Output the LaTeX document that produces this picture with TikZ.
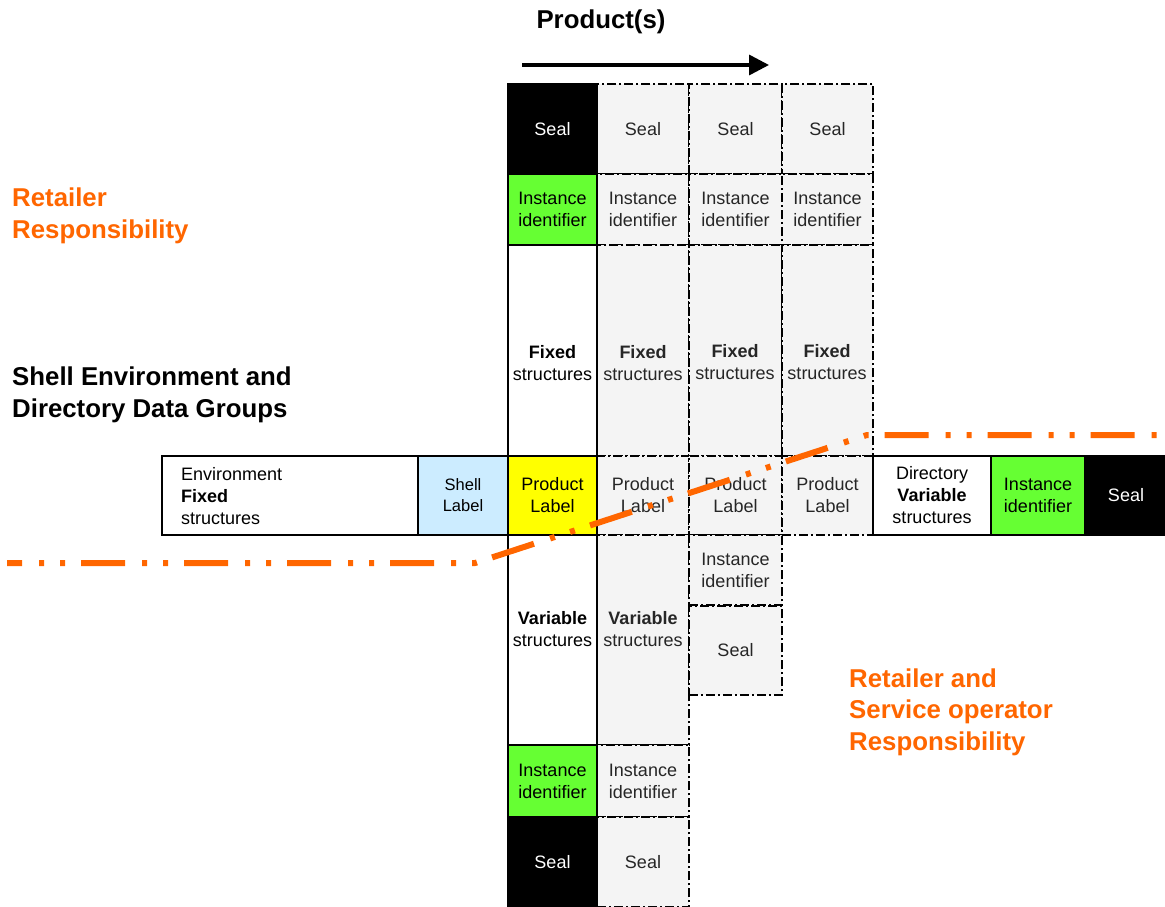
\documentclass[tikz,border=0pt]{standalone}
\usepackage{fontspec}
\setmainfont{Liberation Sans}
\usetikzlibrary{arrows.meta}
\definecolor{mygreen}{RGB}{102,255,51}
\definecolor{myyellow}{RGB}{255,255,0}
\definecolor{myblue}{RGB}{204,236,255}
\definecolor{myorange}{RGB}{255,102,0}
\definecolor{stipple}{RGB}{244,244,244}
\tikzset{
  cell/.style={draw=black, line width=1.6pt, anchor=north west, inner sep=0pt, outer sep=0pt,
    align=center, font=\fontsize{18}{22}\selectfont},
  dcell/.style={cell, fill=stipple, dash pattern=on 9pt off 3pt on 2pt off 3pt, text=black!85},
  sealcell/.style={cell, fill=black, text=white},
  idcell/.style={cell, fill=mygreen},
  txt/.style={inner sep=0pt, align=center, font=\fontsize{18}{22}\selectfont},
  head/.style={inner sep=0pt, align=left, anchor=west, font=\fontsize{25.8}{31.5}\selectfont\bfseries},
  resp/.style={line width=6pt, draw=myorange, dash pattern=on 44pt off 17pt on 5pt off 16pt on 5pt off 16pt, dash phase=29pt}
}
\begin{document}
\begin{tikzpicture}[x=1pt,y=-1pt]
\useasboundingbox (0,0) rectangle (1165,907);
% ---- dashed product cells (columns 2-4)
% column 2
\node[dcell, minimum width=92pt, minimum height=90pt] (b1) at (597,84) {Seal};
\node[dcell, minimum width=92pt, minimum height=71pt] (b2) at (597,174) {Instance\\identifier};
\node[dcell, minimum width=92pt, minimum height=211pt] (b3) at (597,245) {};
\node[dcell, minimum width=92pt, minimum height=79pt] (b4) at (597,456) {Product\\Label};
\node[dcell, minimum width=92pt, minimum height=210pt] (b5) at (597,535) {};
\node[dcell, minimum width=92pt, minimum height=72pt] (b6) at (597,745) {Instance\\identifier};
\node[dcell, minimum width=92pt, minimum height=90pt] (b7) at (597,817) {Seal};
% column 3
\node[dcell, minimum width=93pt, minimum height=90pt] (c1) at (689,84) {Seal};
\node[dcell, minimum width=93pt, minimum height=71pt] (c2) at (689,174) {Instance\\identifier};
\node[dcell, minimum width=93pt, minimum height=211pt] (c3) at (689,245) {};
\node[dcell, minimum width=93pt, minimum height=79pt] (c4) at (689,456) {Product\\Label};
\node[dcell, minimum width=93pt, minimum height=70pt] (c5) at (689,535) {Instance\\identifier};
\node[dcell, minimum width=93pt, minimum height=89pt] (c6) at (689,606) {Seal};
% column 4
\node[dcell, minimum width=91pt, minimum height=90pt] (d1) at (782,84) {Seal};
\node[dcell, minimum width=91pt, minimum height=71pt] (d2) at (782,174) {Instance\\identifier};
\node[dcell, minimum width=91pt, minimum height=211pt] (d3) at (782,245) {};
\node[dcell, minimum width=91pt, minimum height=79pt] (d4) at (782,456) {Product\\Label};
% ---- main column
\node[sealcell, minimum width=89pt, minimum height=90pt] (a1) at (508,84) {Seal};
\node[idcell, minimum width=89pt, minimum height=71pt] (a2) at (508,174) {Instance\\identifier};
\node[cell, fill=white, minimum width=89pt, minimum height=211pt] (a3) at (508,245) {};
\node[cell, fill=myyellow, minimum width=89pt, minimum height=79pt] (a4) at (508,456) {Product\\Label};
\node[cell, fill=white, minimum width=89pt, minimum height=210pt] (a5) at (508,535) {};
\node[idcell, minimum width=89pt, minimum height=72pt] (a6) at (508,745) {Instance\\identifier};
\node[sealcell, minimum width=89pt, minimum height=90pt] (a7) at (508,817) {Seal};
% ---- horizontal row
\node[cell, fill=white, minimum width=256pt, minimum height=79pt] (env) at (162,456) {};
\node[txt, align=left, anchor=west] (envt) at (181,496) {Environment\\\textbf{Fixed}\\structures};
\node[cell, fill=myblue, minimum width=90pt, minimum height=79pt, font=\fontsize{16.5}{21}\selectfont] (shell) at (418,456) {Shell\\Label};
\node[cell, fill=white, minimum width=118pt, minimum height=79pt] (dir) at (873,456) {Directory\\\textbf{Variable}\\structures};
\node[idcell, minimum width=94pt, minimum height=79pt] (dirid) at (991,456) {Instance\\identifier};
\node[sealcell, minimum width=82pt, minimum height=79pt] (dirseal) at (1085,456) {Seal};
% ---- fixed / variable texts
\node[txt] (fa) at (552.5,363) {\textbf{Fixed}\\structures};
\node[txt, text=black!85] (fb) at (643,363) {\textbf{Fixed}\\structures};
\node[txt, text=black!85] (fc) at (735,362) {\textbf{Fixed}\\structures};
\node[txt, text=black!85] (fd) at (827,362) {\textbf{Fixed}\\structures};
\node[txt] (va) at (552.5,629) {\textbf{Variable}\\structures};
\node[txt, text=black!85] (vb) at (643,629) {\textbf{Variable}\\structures};
% ---- title and arrow
\node[inner sep=0pt, font=\fontsize{25.8}{30}\selectfont\bfseries] (prod) at (601,22) {Product(s)};
\coordinate (arS) at (522,65);
\coordinate (arE) at (769,65);
\draw[line width=3.5pt, -{Triangle[length=20pt,width=20pt]}] (arS) -- (arE);
% ---- headings
\node[head, text=myorange] (ret) at (12,216) {Retailer\\Responsibility};
\node[head] (shellenv) at (12,395) {Shell Environment and\\Directory Data Groups};
\node[head, text=myorange] (retso) at (849,712) {Retailer and\\Service operator\\Responsibility};
% ---- responsibility boundary
\coordinate (o1) at (7,563);
\coordinate (o2) at (475,563);
\coordinate (o3) at (867,435);
\coordinate (o4) at (1165,435);
\draw[resp] (o1) -- (o2) -- (o3) -- (o4);
\end{tikzpicture}
\end{document}
